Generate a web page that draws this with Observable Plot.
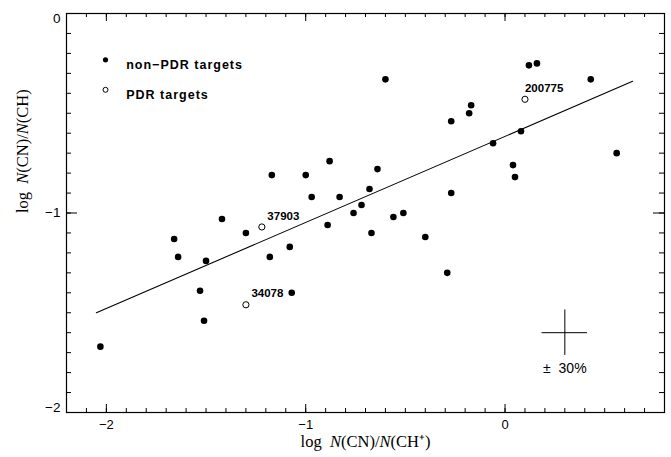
<!DOCTYPE html>
<html><head><meta charset="utf-8">
<script src="https://cdn.jsdelivr.net/npm/d3@7"></script>
<script src="https://cdn.jsdelivr.net/npm/@observablehq/plot@0.6"></script>
<style>
body{margin:0;background:#fff;}
svg text{white-space:pre;}
</style>
</head><body><div id="chart"></div>
<script>
// non-PDR targets: log N(CN)/N(CH+) and log N(CN)/N(CH)
const nonPdrX = [-2.03,-1.66,-1.64,-1.53,-1.51,-1.50,-1.42,-1.30,-1.18,-1.17,-1.08,-1.07,-1.00,-0.97,-0.89,-0.88,-0.83,-0.76,-0.72,-0.68,-0.67,-0.64,-0.60,-0.56,-0.51,-0.40,-0.29,-0.27,-0.27,-0.18,-0.17,-0.06,0.04,0.05,0.08,0.12,0.16,0.43,0.56];
const nonPdrY = [-1.67,-1.13,-1.22,-1.39,-1.54,-1.24,-1.03,-1.10,-1.22,-0.81,-1.17,-1.40,-0.81,-0.92,-1.06,-0.74,-0.92,-1.00,-0.96,-0.88,-1.10,-0.78,-0.33,-1.02,-1.00,-1.12,-1.30,-0.54,-0.90,-0.50,-0.46,-0.65,-0.76,-0.82,-0.59,-0.26,-0.25,-0.33,-0.70];
// PDR targets
const pdrNames = ["37903","34078","200775"];
const pdrX = [-1.22,-1.30,0.10];
const pdrY = [-1.07,-1.46,-0.43];
// fitted line end points
const fitX = [-2.05, 0.64];
const fitY = [-1.50, -0.34];
// representative error (+/- 30%)
const errX = [0.3];
const errY = [-1.6];
const errHalf = 0.114;
const errLabel = "± \u00a030%";
// ticks and texts
const xMajor = [-2,-1,0];
const yMajor = [0,-1,-2];
const legendLabels = ["non\u2212PDR targets","PDR targets"];
const xTitleParts = [["log  ", false], ["N", true], ["(CN)/", false], ["N", true], ["(CH⁺)", false]];
const yTitleParts = [["log  ", false], ["N", true], ["(CN)/", false], ["N", true], ["(CH)", false]];

const W = 671, H = 457, mL = 66, mR = 7, mT = 13, mB = 45;
const fw = W - mL - mR, fh = H - mT - mB;
const xMinor = d3.range(-22, 9).map(i => i / 10);
const yMinor = d3.range(-20, 1).map(i => i / 10);

const nonPdr = nonPdrX.map((x, i) => ({x, y: nonPdrY[i]}));
const pdr = pdrX.map((x, i) => ({x, y: pdrY[i], name: pdrNames[i]}));
const fit = fitX.map((x, i) => ({x, y: fitY[i]}));
const err = errX.map((x, i) => ({x, y: errY[i]}));
const fmt = d3.format("d");
const sans = "Liberation Sans, Arial, sans-serif";
const serif = "Liberation Serif, Times New Roman, serif";
const joinText = parts => parts.map(p => p[0]).join("");
const xTitle = joinText(xTitleParts), yTitle = joinText(yTitleParts);

const svg = Plot.plot({
  width: W, height: H,
  marginLeft: mL, marginRight: mR, marginTop: mT, marginBottom: mB,
  style: {fontFamily: sans, background: "white", color: "black"},
  x: {domain: [-2.2, 0.8], axis: null},
  y: {domain: [-2, 0], axis: null},
  marks: [
    // inward tick marks on all four sides
    Plot.tickX(xMinor, {x: d => d, insetTop: fh - 4, stroke: "black"}),
    Plot.tickX(xMinor, {x: d => d, insetBottom: fh - 4, stroke: "black"}),
    Plot.tickX(xMajor, {x: d => d, insetTop: fh - 8, stroke: "black"}),
    Plot.tickX(xMajor, {x: d => d, insetBottom: fh - 8, stroke: "black"}),
    Plot.tickY(yMinor, {y: d => d, insetRight: fw - 5, stroke: "black"}),
    Plot.tickY(yMinor, {y: d => d, insetLeft: fw - 5, stroke: "black"}),
    Plot.tickY(yMajor, {y: d => d, insetRight: fw - 11, stroke: "black"}),
    Plot.tickY(yMajor, {y: d => d, insetLeft: fw - 11, stroke: "black"}),
    Plot.frame({stroke: "black", strokeWidth: 1.2}),
    // tick labels
    Plot.text(xMajor, {x: d => d, text: d => fmt(d), frameAnchor: "bottom", dy: 16, fontSize: 13, fill: "black"}),
    Plot.text(yMajor.filter(v => v === 0), {y: d => d, text: d => fmt(d), frameAnchor: "left", dx: -6, dy: 5, textAnchor: "end", fontSize: 13.5, fill: "black"}),
    Plot.text(yMajor.filter(v => v !== 0 && v !== -2), {y: d => d, text: d => fmt(d), frameAnchor: "left", dx: -6, textAnchor: "end", fontSize: 13.5, fill: "black"}),
    Plot.text(yMajor.filter(v => v === -2), {y: d => d, text: d => fmt(d), frameAnchor: "left", dx: -6, dy: -4.5, textAnchor: "end", fontSize: 13.5, fill: "black"}),
    // axis titles
    Plot.text([xTitle], {text: d => d, frameAnchor: "bottom", dy: 34.5, fontFamily: serif, fontSize: 16.5, fill: "black"}),
    Plot.text([yTitle], {text: d => d, frameAnchor: "left", dx: -44, rotate: -90, fontFamily: serif, fontSize: 16.5, fill: "black"}),
    // fit line
    Plot.line(fit, {x: "x", y: "y", stroke: "black", strokeWidth: 1.1}),
    // data
    Plot.dot(nonPdr, {x: "x", y: "y", r: 3.3, fill: "black", stroke: "none"}),
    Plot.dot(pdr, {x: "x", y: "y", r: 3.1, fill: "white", stroke: "black", strokeWidth: 1}),
    Plot.text(pdr.filter(d => d.name !== "200775"), {x: "x", y: "y", text: "name", dx: 5.5, dy: -11, textAnchor: "start", fontSize: 11.5, fontWeight: "bold", fill: "black"}),
    Plot.text(pdr.filter(d => d.name === "200775"), {x: "x", y: "y", text: "name", dx: 0, dy: -11, textAnchor: "start", fontSize: 11.5, fontWeight: "bold", fill: "black"}),
    // error cross
    Plot.ruleY(err, {y: "y", x1: d => d.x - errHalf, x2: d => d.x + errHalf, stroke: "black", strokeWidth: 1}),
    Plot.ruleX(err, {x: "x", y1: d => d.y - errHalf, y2: d => d.y + errHalf, stroke: "black", strokeWidth: 1}),
    Plot.text(err, {x: "x", y: "y", text: () => errLabel, dy: 36, fontSize: 14, fill: "black"}),
    // legend
    Plot.dot([legendLabels[0]], {frameAnchor: "top-left", dx: 39, dy: 46.3, r: 2.6, fill: "black", stroke: "none"}),
    Plot.dot([legendLabels[1]], {frameAnchor: "top-left", dx: 39, dy: 76.3, r: 2.5, fill: "white", stroke: "black", strokeWidth: 1}),
    Plot.text([legendLabels[0]], {text: d => d, frameAnchor: "top-left", dx: 59.7, dy: 46.3, textAnchor: "start", fontSize: 12.5, fontWeight: "bold", fill: "black"}),
    Plot.text([legendLabels[1]], {text: d => d, frameAnchor: "top-left", dx: 59.7, dy: 76.3, textAnchor: "start", fontSize: 12.5, fontWeight: "bold", fill: "black"})
  ]
});

const s = d3.select(svg);
s.selectAll("text").filter(function() { return legendLabels.includes(this.textContent); })
  .style("letter-spacing", "1px");
function italicize(str, parts) {
  s.selectAll("text").filter(function() { return this.textContent === str; }).each(function() {
    const t = d3.select(this);
    t.text(null);
    parts.forEach(([p, it]) => {
      t.append("tspan").text(p).style("font-style", it ? "italic" : "normal");
    });
  });
}
italicize(xTitle, xTitleParts);
italicize(yTitle, yTitleParts);
document.getElementById("chart").appendChild(svg);
</script>
</body></html>
